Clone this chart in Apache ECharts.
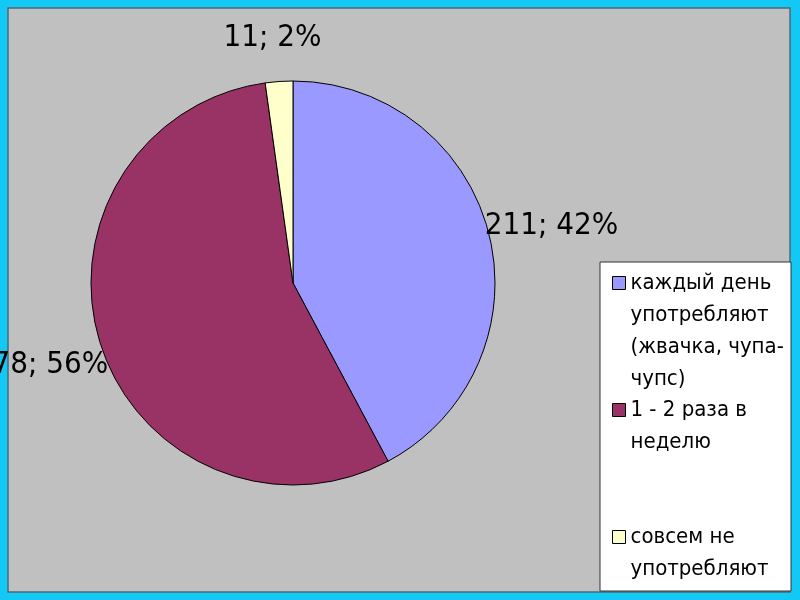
<!DOCTYPE html>
<html>
<head>
<meta charset="utf-8">
<script src="https://cdn.jsdelivr.net/npm/echarts@6/dist/echarts.min.js"></script>
<style>
	html, body { margin: 0; padding: 0; }
	#chart { width: 800px; height: 600px; }
</style>
</head>
<body>
<div id="chart"></div>
<script>
	var categories = [
		"каждый день употребляют (жвачка, чупа-чупс)",
		"1 - 2 раза в неделю",
		"совсем не употребляют"
	];
	var values = [211, 278, 11];
	var percents = [42, 56, 2];
	// переносы строк как в легенде оригинала
	var legendLines = [
		"каждый день\nупотребляют\n(жвачка, чупа-\nчупс)",
		"1 - 2 раза в\nнеделю",
		"совсем не\nупотребляют"
	];
	var colorList = ["#9999ff", "#993366", "#ffffcc"];
	var legendIconY = [283, 410, 537];
	var labelOffsets = [[-17, -6], [20, 17], [48, -36]];

	var font = '"DejaVu Sans Condensed", "DejaVu Sans", sans-serif';
	var lineH = 32;
	var myChart = echarts.init(document.getElementById("chart"));

	var seriesData = categories.map(function (name, i) {
		return {
			name: name,
			value: values[i],
			pct: percents[i],
			label: { offset: labelOffsets[i] }
		};
	});

	// значок легенды по центру текста, поэтому сверху добавляем пустые строки,
	// чтобы значок оказался напротив первой строки
	var legends = categories.map(function (name, i) {
		var n = legendLines[i].split("\n").length;
		var pad = new Array(n).join("\n");
		return {
			orient: "vertical",
			left: 612,
			top: legendIconY[i] - (2 * n - 1) * lineH / 2,
			padding: 0,
			itemWidth: 13,
			itemHeight: 13,
			icon: "rect",
			selectedMode: false,
			data: [{ name: name, itemStyle: { borderColor: "#000", borderWidth: 1 } }],
			formatter: function () { return pad + legendLines[i]; },
			textStyle: {
				fontFamily: font,
				fontWeight: "condensed",
				fontSize: 22,
				lineHeight: lineH,
				color: "#000"
			}
		};
	});

	var option = {
		backgroundColor: "#14c8f6",
		animation: false,
		graphic: [
			{
				type: "rect",
				shape: { x: 8, y: 8, width: 782, height: 584 },
				style: { fill: "#c0c0c0", stroke: "#4a6a78", lineWidth: 1.5 }
			},
			{
				type: "rect",
				shape: { x: 600, y: 262, width: 191, height: 329 },
				style: { fill: "#ffffff", stroke: "#333", lineWidth: 1 }
			}
		],
		legend: legends,
		series: [
			{
				type: "pie",
				center: [293, 283],
				radius: 202,
				startAngle: 90,
				clockwise: true,
				avoidLabelOverlap: false,
				color: colorList,
				itemStyle: { borderColor: "#000", borderWidth: 1 },
				label: {
					show: true,
					position: "outside",
					alignTo: "none",
					formatter: function (p) { return p.value + "; " + p.data.pct + "%"; },
					fontFamily: font,
					fontWeight: "condensed",
					fontSize: 31,
					color: "#000"
				},
				labelLine: { show: false, length: 8, length2: 0 },
				emphasis: { disabled: true },
				data: seriesData
			}
		]
	};
	myChart.setOption(option);
</script>
</body>
</html>
